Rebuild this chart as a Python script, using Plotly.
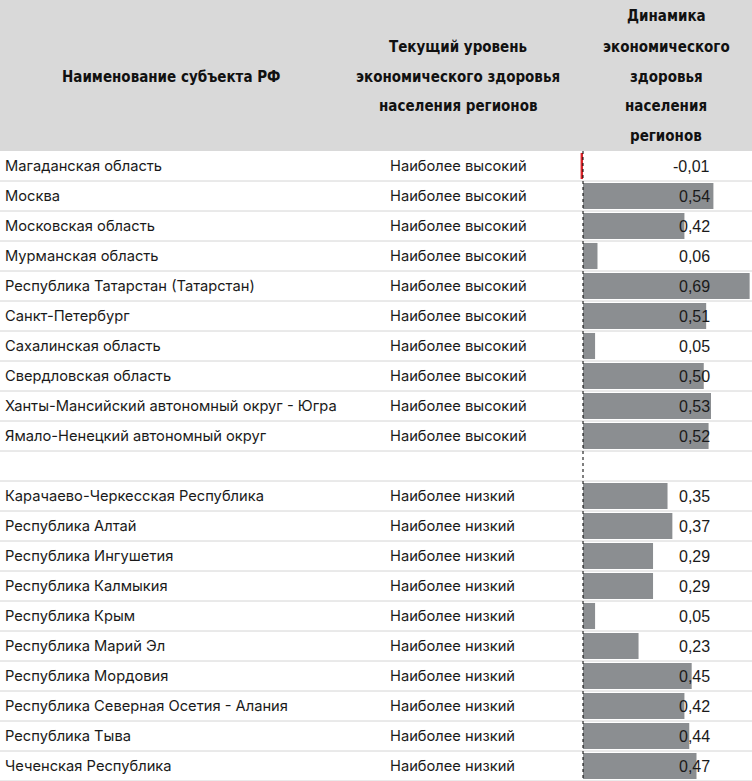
import plotly.graph_objects as go

# Data
high_regions = [
    "Магаданская область", "Москва", "Московская область", "Мурманская область",
    "Республика Татарстан (Татарстан)", "Санкт-Петербург", "Сахалинская область",
    "Свердловская область", "Ханты-Мансийский автономный округ - Югра",
    "Ямало-Ненецкий автономный округ",
]
high_values = [-0.01, 0.54, 0.42, 0.06, 0.69, 0.51, 0.05, 0.50, 0.53, 0.52]

low_regions = [
    "Карачаево-Черкесская Республика", "Республика Алтай", "Республика Ингушетия",
    "Республика Калмыкия", "Республика Крым", "Республика Марий Эл",
    "Республика Мордовия", "Республика Северная Осетия - Алания",
    "Республика Тыва", "Чеченская Республика",
]
low_values = [0.35, 0.37, 0.29, 0.29, 0.05, 0.23, 0.45, 0.42, 0.44, 0.47]

high_label = "Наиболее высокий"
low_label = "Наиболее низкий"

# header lines per column
headers = [
    ["Наименование субъекта РФ"],
    ["Текущий уровень", "экономического здоровья", "населения регионов"],
    ["Динамика", "экономического", "здоровья", "населения", "регионов"],
]

# Rows: high group, one blank row, low group
regions = high_regions + [None] + low_regions
values = high_values + [None] + low_values
levels = [high_label] * len(high_regions) + [None] + [low_label] * len(low_regions)
n_rows = len(regions)

W, H = 752, 781
header_h = 151
head_line_h = 30

rows_y = [i for i, v in enumerate(values) if v is not None]
bar_vals = [values[i] for i in rows_y]
bar_colors = ["#d9262b" if v < 0 else "#8b8e91" for v in bar_vals]

px_per_unit = 241.5
zero_px = 583
x_dom0 = 564 / W
x_range = [-(zero_px - 564) / px_per_unit, (W - zero_px) / px_per_unit]

name_font = dict(family="Inter, Liberation Sans, sans-serif", size=14.7, color="#1a1a1a")
value_font = dict(family="Liberation Sans, Arial, sans-serif", size=16, color="#1a1a1a")
head_font = dict(family="DejaVu Sans Condensed, Liberation Sans Narrow, sans-serif",
                 size=15, color="#111111")

fig = go.Figure()

fig.add_trace(go.Bar(
    x=bar_vals,
    y=rows_y,
    orientation="h",
    marker_color=bar_colors,
    marker_line_width=0,
    hoverinfo="skip",
    showlegend=False,
))

# header background
fig.add_shape(type="rect", xref="paper", yref="paper", x0=0, x1=1,
              y0=(H - header_h) / H, y1=1, fillcolor="#d9d9d9", line_width=0, layer="below")

# row separators
for i in range(n_rows):
    fig.add_shape(type="line", xref="paper", yref="y", x0=0, x1=1,
                  y0=i + 0.5, y1=i + 0.5, line=dict(color="#d4d4d4", width=1), layer="below")

# zero axis
fig.add_shape(type="line", xref="x", yref="y", x0=0, x1=0, y0=-0.5, y1=n_rows - 0.5,
              line=dict(color="black", width=1, dash="dot"))

annotations = []
for i in range(n_rows):
    if regions[i] is None:
        continue
    annotations.append(dict(x=3 / W, y=i, xref="paper", yref="y", text=regions[i],
                            xanchor="left", showarrow=False, font=name_font))
    annotations.append(dict(x=388 / W, y=i, xref="paper", yref="y", text=levels[i],
                            xanchor="left", showarrow=False, font=name_font))
    annotations.append(dict(x=712 / W, y=i, xref="paper", yref="y",
                            text=f"{values[i]:.2f}".replace(".", ","),
                            xanchor="right", showarrow=False, font=value_font))

head_centers = [171, 458, 666]
head_mid = header_h / 2 + 1
for cx, lines in zip(head_centers, headers):
    n = len(lines)
    for k, t in enumerate(lines):
        py = head_mid + (k - (n - 1) / 2) * head_line_h
        annotations.append(dict(x=cx / W, y=1 - py / H, xref="paper", yref="paper",
                                text=f"<b>{t}</b>", xanchor="center", yanchor="middle",
                                showarrow=False, font=head_font))

fig.update_layout(
    width=W, height=H,
    margin=dict(l=0, r=0, t=0, b=0),
    paper_bgcolor="white", plot_bgcolor="white",
    bargap=0.13,
    xaxis=dict(domain=[x_dom0, 1], range=x_range, visible=False, fixedrange=True),
    yaxis=dict(domain=[0, (H - header_h) / H], range=[n_rows - 0.5, -0.5],
               visible=False, fixedrange=True),
    annotations=annotations,
)

# drop the default page margin so the figure sits at the window corner
fig.write_html("out.html", config={"displayModeBar": False},
               post_script="document.body.style.margin='0';")
